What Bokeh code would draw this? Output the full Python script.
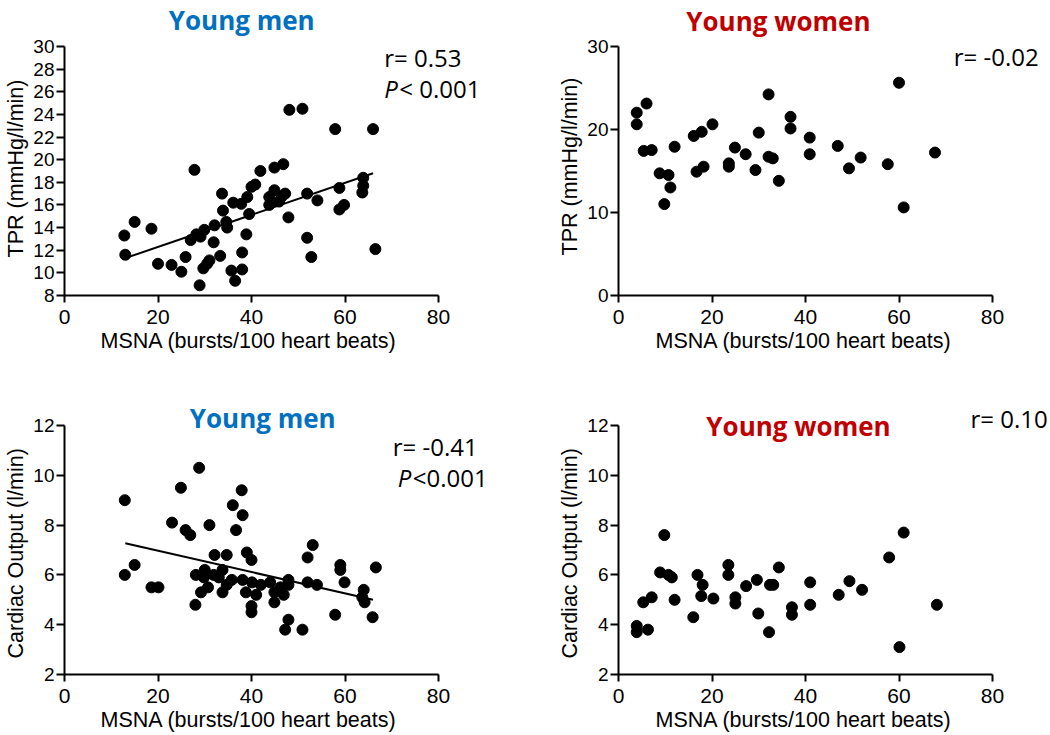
from bokeh.plotting import figure
from bokeh.models import Range1d, FixedTicker, Label, Title
from bokeh.layouts import column, row
from bokeh.embed import file_html
from bokeh.resources import INLINE

# ---------------- data ----------------
men_tpr_x = [12.8, 13.0, 15.0, 18.6, 20.0, 22.9, 25.0, 25.9, 27.8, 27.0, 28.2, 29.1, 28.9, 29.9,
             29.7, 30.5, 31.0, 31.9, 32.1, 33.3, 33.7, 33.9, 34.6, 34.8, 36.1, 35.7, 36.5, 37.8,
             38.0, 38.0, 38.9, 39.1, 39.5, 48.1, 50.9, 57.9, 66.0, 41.9, 44.9, 46.8, 40.0, 40.8,
             44.9, 43.8, 43.8, 46.4, 47.2, 45.9, 47.9, 51.9, 54.1, 51.9, 52.8, 58.8, 58.8, 59.8,
             63.9, 63.9, 63.7, 66.5]
men_tpr_y = [13.3, 11.6, 14.5, 13.9, 10.8, 10.7, 10.1, 11.4, 19.1, 12.9, 13.4, 13.2, 8.9, 13.8,
             10.4, 10.8, 11.1, 12.7, 14.2, 11.5, 17.0, 15.5, 14.5, 14.0, 16.2, 10.2, 9.3, 16.1,
             11.8, 10.3, 13.4, 16.7, 15.2, 24.4, 24.5, 22.7, 22.7, 19.0, 19.3, 19.6, 17.6, 17.8,
             17.3, 16.7, 16.0, 16.7, 17.0, 16.3, 14.9, 17.0, 16.4, 13.1, 11.4, 17.5, 15.6, 16.0,
             18.4, 17.7, 17.1, 12.1]
men_tpr_fit_x = [13, 66]
men_tpr_fit_y = [11.3, 18.8]

women_tpr_x = [3.9, 3.9, 6.0, 5.4, 7.1, 8.8, 10.7, 9.8, 11.1, 12.0, 16.1, 17.8, 16.7, 18.2, 20.1,
               23.6, 23.6, 24.9, 27.2, 29.3, 30.0, 32.1, 32.1, 33.0, 34.3, 36.8, 36.8, 40.9, 40.9,
               46.9, 49.3, 51.8, 57.6, 60.0, 61.0, 67.7]
women_tpr_y = [22.0, 20.6, 23.1, 17.4, 17.5, 14.7, 14.5, 11.0, 13.0, 17.9, 19.2, 19.7, 14.9, 15.5,
               20.6, 15.9, 15.5, 17.8, 17.0, 15.1, 19.6, 24.2, 16.7, 16.5, 13.8, 21.5, 20.1, 19.0,
               17.0, 18.0, 15.3, 16.6, 15.8, 25.6, 10.6, 17.2]

men_co_x = [12.9, 12.9, 15.0, 18.6, 20.1, 23.0, 24.9, 25.9, 26.9, 28.0, 28.1, 28.8, 29.2, 30.0,
            29.8, 30.7, 31.0, 32.1, 31.9, 33.0, 33.8, 33.8, 34.7, 34.7, 35.8, 36.0, 36.7, 37.9,
            38.1, 39.0, 40.0, 38.1, 40.1, 38.8, 41.0, 40.0, 40.0, 42.0, 44.0, 44.9, 44.9, 46.2,
            46.9, 47.9, 47.9, 47.9, 47.2, 50.9, 52.0, 53.1, 52.0, 54.0, 57.9, 59.0, 59.0, 59.9,
            64.0, 63.7, 64.2, 66.6, 65.9]
men_co_y = [9.0, 6.0, 6.4, 5.5, 5.5, 8.1, 9.5, 7.8, 7.6, 4.8, 6.0, 10.3, 5.3, 6.2,
            5.9, 5.5, 8.0, 6.8, 6.0, 5.9, 6.2, 5.3, 6.8, 5.6, 5.8, 8.8, 7.8, 9.4,
            8.4, 6.9, 6.6, 5.8, 5.7, 5.3, 5.2, 4.75, 4.5, 5.6, 5.7, 5.3, 4.9, 5.5,
            5.2, 5.8, 5.6, 4.2, 3.8, 3.8, 6.7, 7.2, 5.7, 5.6, 4.4, 6.4, 6.2, 5.7,
            5.4, 5.1, 4.9, 6.3, 4.3]
men_co_fit_x = [13, 66]
men_co_fit_y = [7.27, 5.0]

women_co_x = [3.9, 3.9, 6.3, 5.3, 7.1, 8.9, 9.8, 10.7, 11.4, 12.0, 16.0, 16.9, 18.0, 17.7, 20.3,
              23.5, 23.5, 25.0, 25.0, 27.3, 29.6, 29.9, 32.2, 32.4, 33.1, 34.3, 37.1, 37.1, 41.0,
              41.0, 47.1, 49.4, 52.1, 57.9, 61.0, 60.1, 68.1]
women_co_y = [3.95, 3.7, 3.8, 4.9, 5.1, 6.1, 7.6, 6.0, 5.9, 5.0, 4.3, 6.0, 5.6, 5.15, 5.05,
              6.4, 6.0, 5.1, 4.85, 5.55, 5.8, 4.45, 3.7, 5.6, 5.6, 6.3, 4.7, 4.4, 5.7,
              4.8, 5.2, 5.75, 5.4, 6.7, 7.7, 3.1, 4.8]

x_ticks = [0, 20, 40, 60, 80]
men_tpr_ticks = [8, 10, 12, 14, 16, 18, 20, 22, 24, 26, 28, 30]
women_tpr_ticks = [0, 10, 20, 30]
co_ticks = [2, 4, 6, 8, 10, 12]

x_label = "MSNA (bursts/100 heart beats)"
tpr_label = "TPR (mmHg/l/min)"
co_label = "Cardiac Output (l/min)"

BLUE = "#0070C0"
RED = "#C00000"
AX_FONT = "Liberation Sans"
ANN_FONT = "Open Sans"

X_PX = 4.675  # pixels per x unit (0..80 spans 374 px)


def make_fig(width, height, left, bottom, y_lo, y_hi, y_px, yticks, ylabel,
             ylab_offset, xlab_offset):
    frame_w = width - left
    frame_h = height - bottom
    x_end = frame_w / X_PX
    y_end = y_lo + frame_h / y_px
    p = figure(width=width, height=height, x_range=Range1d(0, x_end), y_range=Range1d(y_lo, y_end),
               output_backend="svg", toolbar_location=None,
               min_border_left=left, min_border_right=0,
               min_border_top=0, min_border_bottom=bottom)
    p.xgrid.visible = False
    p.ygrid.visible = False
    p.outline_line_color = None
    p.background_fill_color = "white"
    p.border_fill_color = "white"

    xa = p.xaxis[0]
    xa.ticker = FixedTicker(ticks=x_ticks)
    xa.bounds = (0, 80)
    xa.major_label_text_font_size = "21px"
    xa.major_label_standoff = 7
    xa.major_tick_out = 7

    ya = p.yaxis[0]
    ya.ticker = FixedTicker(ticks=yticks)
    ya.bounds = (y_lo, y_hi)
    ya.major_label_text_font_size = "19px"
    ya.major_label_standoff = 2
    ya.major_tick_out = 8

    for ax in (xa, ya):
        ax.axis_line_width = 2
        ax.axis_line_color = "black"
        ax.major_tick_line_width = 2
        ax.major_tick_line_color = "black"
        ax.major_tick_in = 0
        ax.minor_tick_in = 0
        ax.minor_tick_out = 0
        ax.major_label_text_font = AX_FONT
        ax.major_label_text_color = "black"

    p.add_layout(Title(text=ylabel, align="left", offset=ylab_offset, standoff=4,
                       vertical_align="middle", text_font=AX_FONT, text_font_size="21.5px",
                       text_font_style="normal", text_color="black"), "left")
    p.add_layout(Title(text=x_label, align="left", offset=xlab_offset, standoff=2,
                       vertical_align="middle", text_font=AX_FONT, text_font_size="21.5px",
                       text_font_style="normal", text_color="black"), "below")
    return p


def add_text(p, x, y, text, size="24px", font=ANN_FONT, style="normal", color="black",
             align="left", baseline="middle"):
    p.add_layout(Label(x=x, y=y, text=text, text_font=font, text_font_size=size,
                       text_font_style=style, text_color=color, text_align=align,
                       text_baseline=baseline))


# Panel 1: young men TPR
p1 = make_fig(528, 368, 64, 73, 8, 30, 11.32, men_tpr_ticks, tpr_label, 38, 36)
p1.scatter(men_tpr_x, men_tpr_y, size=11, color="black")
p1.line(men_tpr_fit_x, men_tpr_fit_y, line_width=2, color="black")
add_text(p1, 37.9, 32.3, "Young men", size="26px", style="bold", color=BLUE,
         align="center", baseline="alphabetic")
add_text(p1, 68.4, 29.0, "r= 0.53")
add_text(p1, 68.4, 26.3, "P", style="italic")
add_text(p1, 71.6, 26.3, "< 0.001")

# Panel 2: young women TPR
p2 = make_fig(522, 368, 90, 73, 0, 30, 8.31, women_tpr_ticks, tpr_label, 40, 37)
p2.scatter(women_tpr_x, women_tpr_y, size=11, color="black")
add_text(p2, 34.2, 33.0, "Young women", size="26px", style="bold", color=RED,
         align="center", baseline="alphabetic")
add_text(p2, 71.7, 28.8, "r= -0.02")

# Panel 3: young men cardiac output
p3 = make_fig(528, 367, 64, 61, 2, 12, 24.9, co_ticks, co_label, 16, 36)
p3.scatter(men_co_x, men_co_y, size=11, color="black")
p3.line(men_co_fit_x, men_co_fit_y, line_width=2, color="black")
add_text(p3, 42.4, 12.32, "Young men", size="26px", style="bold", color=BLUE,
         align="center", baseline="alphabetic")
add_text(p3, 70.2, 11.16, "r= -0.41")
add_text(p3, 71.3, 9.91, "P", style="italic")
add_text(p3, 74.5, 9.91, "<0.001")

# Panel 4: young women cardiac output
p4 = make_fig(522, 367, 90, 61, 2, 12, 24.9, co_ticks, co_label, 16, 37)
p4.scatter(women_co_x, women_co_y, size=11, color="black")
add_text(p4, 38.5, 11.96, "Young women", size="26px", style="bold", color=RED,
         align="center", baseline="alphabetic")
add_text(p4, 75.3, 12.28, "r= 0.10")

layout = column(row(p1, p2), row(p3, p4))

open("out.html", "w").write(file_html(layout, INLINE))
